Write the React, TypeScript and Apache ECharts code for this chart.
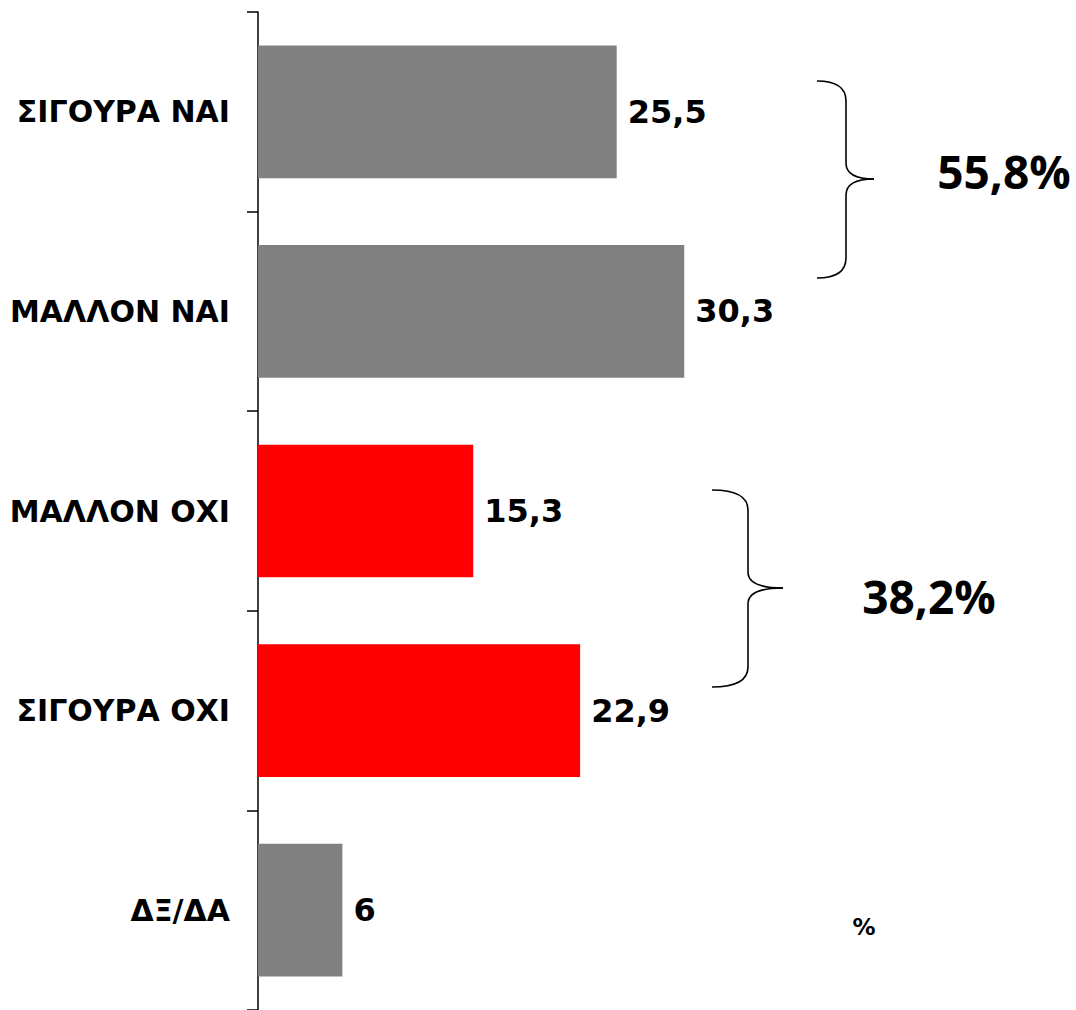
import React, { useEffect, useRef } from "react";
import * as echarts from "echarts";

const categories = ["ΣΙΓΟΥΡΑ ΝΑΙ", "ΜΑΛΛΟΝ ΝΑΙ", "ΜΑΛΛΟΝ ΟΧΙ", "ΣΙΓΟΥΡΑ ΟΧΙ", "ΔΞ/ΔΑ"];
const values = [25.5, 30.3, 15.3, 22.9, 6];
const barColors = ["#808080", "#808080", "#FF0000", "#FF0000", "#808080"];
const groupTotals = ["55,8%", "38,2%"];
const unitLabel = "%";

function brace(x0: number, xv: number, xt: number, yTop: number, yMid: number, yBot: number, r: number, rt: number) {
  const style = { stroke: "#000", lineWidth: 1.6, fill: "none" };
  return {
    type: "group",
    children: [
      { type: "bezierCurve", shape: { x1: x0, y1: yTop, x2: xv, y2: yTop + r, cpx1: xv, cpy1: yTop }, style },
      { type: "line", shape: { x1: xv, y1: yTop + r, x2: xv, y2: yMid - rt }, style },
      { type: "bezierCurve", shape: { x1: xv, y1: yMid - rt, x2: xt, y2: yMid, cpx1: xv, cpy1: yMid }, style },
      { type: "bezierCurve", shape: { x1: xt, y1: yMid, x2: xv, y2: yMid + rt, cpx1: xv, cpy1: yMid }, style },
      { type: "line", shape: { x1: xv, y1: yMid + rt, x2: xv, y2: yBot - r }, style },
      { type: "bezierCurve", shape: { x1: xv, y1: yBot - r, x2: x0, y2: yBot, cpx1: xv, cpy1: yBot }, style },
    ],
  };
}

export default function App() {
  const ref = useRef<HTMLDivElement>(null);
  useEffect(() => {
    if (!ref.current) return;
    const chart = echarts.init(ref.current, null, { renderer: "svg" });
    chart.setOption({
      animation: false,
      backgroundColor: "#fff",
      grid: { left: 258, top: 12, right: 0, height: 1000 },
      xAxis: {
        type: "value",
        min: 0,
        max: 58.15,
        show: false,
        splitLine: { show: false },
      },
      yAxis: {
        type: "category",
        data: categories,
        inverse: true,
        axisLine: { show: true, lineStyle: { color: "#000", width: 1.5 } },
        axisTick: { show: true, length: 11, lineStyle: { color: "#000", width: 1.5 } },
        axisLabel: {
          margin: 28,
          color: "#000",
          fontFamily: "DejaVu Sans",
          fontWeight: "bold",
          fontSize: 30,
        },
      },
      series: [
        {
          type: "bar",
          data: values.map((v, i) => ({ value: v, itemStyle: { color: barColors[i] } })),
          barCategoryGap: "33.5%",
          label: {
            show: true,
            position: "right",
            distance: 11,
            color: "#000",
            fontFamily: "DejaVu Sans",
            fontWeight: "bold",
            fontSize: 32,
            formatter: (p: any) => String(p.value).replace(".", ","),
          },
        },
      ],
      graphic: [
        brace(817, 846, 874, 81, 179, 278, 20, 16),
        brace(712, 748, 783, 490, 588, 687, 20, 16),
        {
          type: "text",
          x: 1004,
          y: 171,
          style: { text: groupTotals[0], fontFamily: "Open Sans", fontWeight: "bold", fontSize: 46, fill: "#000", textAlign: "center", textVerticalAlign: "middle" },
        },
        {
          type: "text",
          x: 929,
          y: 596,
          style: { text: groupTotals[1], fontFamily: "Open Sans", fontWeight: "bold", fontSize: 46, fill: "#000", textAlign: "center", textVerticalAlign: "middle" },
        },
        {
          type: "text",
          x: 864,
          y: 927,
          style: { text: unitLabel, fontFamily: "DejaVu Sans", fontWeight: "bold", fontSize: 23, fill: "#000", textAlign: "center", textVerticalAlign: "middle" },
        },
      ],
    });
    return () => chart.dispose();
  }, []);
  return <div ref={ref} style={{ position: "absolute", left: 0, top: 0, width: 1076, height: 1010 }} />;
}
